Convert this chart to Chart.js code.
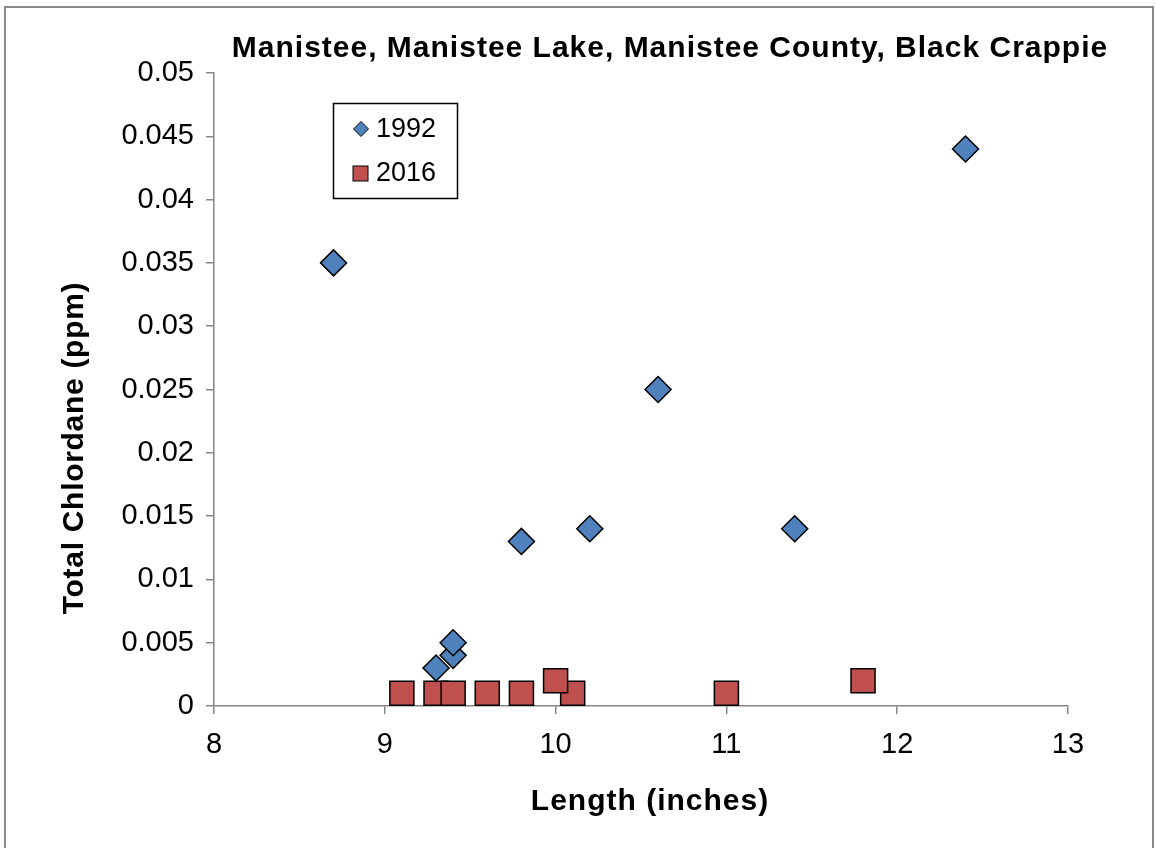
<!DOCTYPE html>
<html>
<head>
<meta charset="utf-8">
<script src="https://cdn.jsdelivr.net/npm/chart.js@4/dist/chart.umd.min.js"></script>
<style>
  html, body { margin: 0; padding: 0; background: #fff; overflow: hidden; }
  #wrap { position: relative; width: 1156px; height: 848px; }
  #frame {
    position: absolute; left: 4px; top: 6px; width: 1150px; height: 860px;
    border: 2px solid #8a8a8a; box-sizing: border-box; pointer-events: none;
  }
</style>
</head>
<body>
<div id="wrap">
  <canvas id="chart" width="1156" height="848"></canvas>
  <div id="frame"></div>
</div>
<script>
// data
const len1992 = [8.7, 9.3, 9.4, 9.4, 9.8, 10.2, 10.6, 11.4, 12.4]
const chl1992 = [0.035, 0.003, 0.004, 0.005, 0.013, 0.014, 0.025, 0.014, 0.044]
const len2016 = [9.1, 9.3, 9.4, 9.6, 9.8, 10.1, 10.0, 11.0, 11.8]
const chl2016 = [0.001, 0.001, 0.001, 0.001, 0.001, 0.001, 0.002, 0.001, 0.002]

const seriesNames = ['1992', '2016']
const chartTitle = 'Manistee, Manistee Lake, Manistee County, Black Crappie'
const xTitle = 'Length (inches)'
const yTitle = 'Total Chlordane (ppm)'

const FONT = '"Liberation Sans", Arial, sans-serif'
const AXIS_GRAY = '#868686'
const BLUE = '#4F81BD'
const RED = '#C0504D'

const toPoints = (xs, ys) => xs.map((x, i) => ({ x: x, y: ys[i] }))

// title, axis titles and the boxed legend drawn on top
const decorations = {
  id: 'decorations',
  afterDraw(chart) {
    const ctx = chart.ctx
    ctx.save()
    ctx.fillStyle = '#000'
    ctx.textAlign = 'center'
    ctx.textBaseline = 'middle'
    ctx.letterSpacing = '1px'
    ctx.font = 'bold 30px ' + FONT
    ctx.fillText(chartTitle, 670, 49)

    ctx.fillText(xTitle, 650, 802)

    ctx.save()
    ctx.translate(75, 448)
    ctx.rotate(-Math.PI / 2)
    ctx.letterSpacing = '0.7px'
    ctx.fillText(yTitle, 0, 0)
    ctx.restore()
    ctx.letterSpacing = '0px'

    // legend box
    ctx.strokeStyle = '#000'
    ctx.lineWidth = 1.5
    ctx.strokeRect(333.5, 103.5, 124, 95)

    // diamond
    ctx.lineWidth = 1
    ctx.beginPath()
    ctx.moveTo(361, 121.5)
    ctx.lineTo(368.5, 129)
    ctx.lineTo(361, 136.5)
    ctx.lineTo(353.5, 129)
    ctx.closePath()
    ctx.fillStyle = BLUE
    ctx.fill()
    ctx.stroke()

    // square
    ctx.fillStyle = RED
    ctx.fillRect(353, 166, 15, 15)
    ctx.strokeRect(353, 166, 15, 15)

    ctx.fillStyle = '#000'
    ctx.textAlign = 'left'
    ctx.font = '27px ' + FONT
    ctx.fillText(seriesNames[0], 376, 130)
    ctx.fillText(seriesNames[1], 376, 174)
    ctx.restore()
  }
}

const ctx = document.getElementById('chart').getContext('2d')
const chart = new Chart(ctx, {
  type: 'scatter',
  data: {
    datasets: [
      {
        label: seriesNames[0],
        data: toPoints(len1992, chl1992),
        pointStyle: 'rectRot',
        pointRadius: 13,
        pointHoverRadius: 13,
        backgroundColor: BLUE,
        borderColor: '#000',
        borderWidth: 1.5,
      },
      {
        label: seriesNames[1],
        data: toPoints(len2016, chl2016),
        pointStyle: 'rect',
        pointRadius: 17,
        pointHoverRadius: 17,
        backgroundColor: RED,
        borderColor: '#000',
        borderWidth: 1.5,
      }
    ]
  },
  options: {
    responsive: false,
    animation: false,
    layout: {
      padding: { left: 0, right: 88, top: 73, bottom: 0 }
    },
    scales: {
      x: {
        type: 'linear',
        min: 8,
        max: 13,
        afterFit: (scale) => { scale.height = 142 },
        ticks: {
          stepSize: 1,
          color: '#000',
          font: { family: FONT, size: 29 },
          padding: 14,
        },
        grid: {
          drawOnChartArea: false,
          drawTicks: true,
          tickLength: 8,
          color: AXIS_GRAY,
          lineWidth: 1.5,
        },
        border: { color: AXIS_GRAY, width: 1.5 },
      },
      y: {
        type: 'linear',
        min: 0,
        max: 0.05,
        afterFit: (scale) => { scale.width = 214 },
        ticks: {
          stepSize: 0.005,
          color: '#000',
          font: { family: FONT, size: 29 },
          padding: 12,
          callback: function(value) {
            return String(parseFloat(value.toFixed(3)))
          }
        },
        grid: {
          drawOnChartArea: false,
          drawTicks: true,
          tickLength: 8,
          color: AXIS_GRAY,
          lineWidth: 1.5,
        },
        border: { color: AXIS_GRAY, width: 1.5 },
      }
    },
    plugins: {
      legend: { display: false },
      title: { display: false },
      tooltip: { enabled: false },
    }
  },
  plugins: [decorations]
})
</script>
</body>
</html>
